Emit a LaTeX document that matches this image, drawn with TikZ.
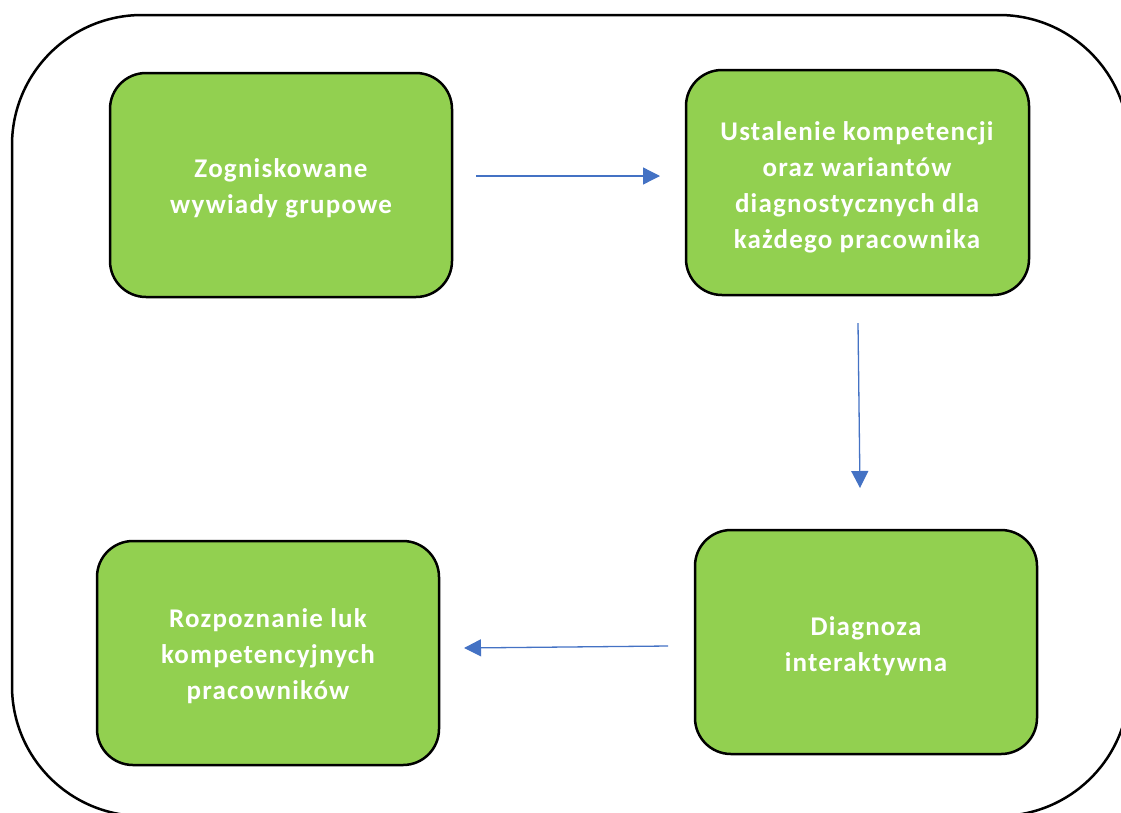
\documentclass[tikz,border=0pt]{standalone}
\usepackage{fontspec}
\setmainfont{Carlito}
\usetikzlibrary{arrows.meta}
\definecolor{stepgreen}{HTML}{92D050}
\definecolor{flowblue}{HTML}{4472C4}
\begin{document}
\begin{tikzpicture}[x=1pt,y=-1pt,
  stepbox/.style={draw=black, line width=2.5pt, fill=stepgreen, rounded corners=36pt},
  steptext/.style={text=white, align=center, inner sep=0pt,
    font=\fontsize{27}{36}\selectfont\bfseries\addfontfeatures{LetterSpace=4.5}},
  flow/.style={draw=flowblue, line width=1.3pt, -{Triangle[length=17pt,width=17pt]}}]
  \useasboundingbox (0,0) rectangle (1121,812);
  \begin{scope}
    \clip (0,0) rectangle (1121,812);
    \draw[line width=2.5pt, rounded corners=130pt] (12,15) rectangle (1129,816);
  \end{scope}
  % process steps
  \path[stepbox] (110,73) rectangle (452,297);
  \node[steptext] (s1) at (281,188) {Zogniskowane\\wywiady grupowe};
  \path[stepbox] (686,70) rectangle (1029,295);
  \node[steptext] (s2) at (857,187) {Ustalenie kompetencji\\oraz wariantów\\diagnostycznych dla\\każdego pracownika};
  \path[stepbox] (695,530) rectangle (1037,754);
  \node[steptext] (s3) at (866,646) {Diagnoza\\interaktywna};
  \path[stepbox] (97,541) rectangle (439,765);
  \node[steptext] (s4) at (268,656) {Rozpoznanie luk\\kompetencyjnych\\pracowników};
  % connectors
  \coordinate (a1s) at (476,176); \coordinate (a1e) at (660,176);
  \coordinate (a2s) at (858,323); \coordinate (a2e) at (860,488);
  \coordinate (a3s) at (668,646); \coordinate (a3e) at (464,648);
  \draw[flow] (a1s) -- (a1e);
  \draw[flow] (a2s) -- (a2e);
  \draw[flow] (a3s) -- (a3e);
\end{tikzpicture}
\end{document}
